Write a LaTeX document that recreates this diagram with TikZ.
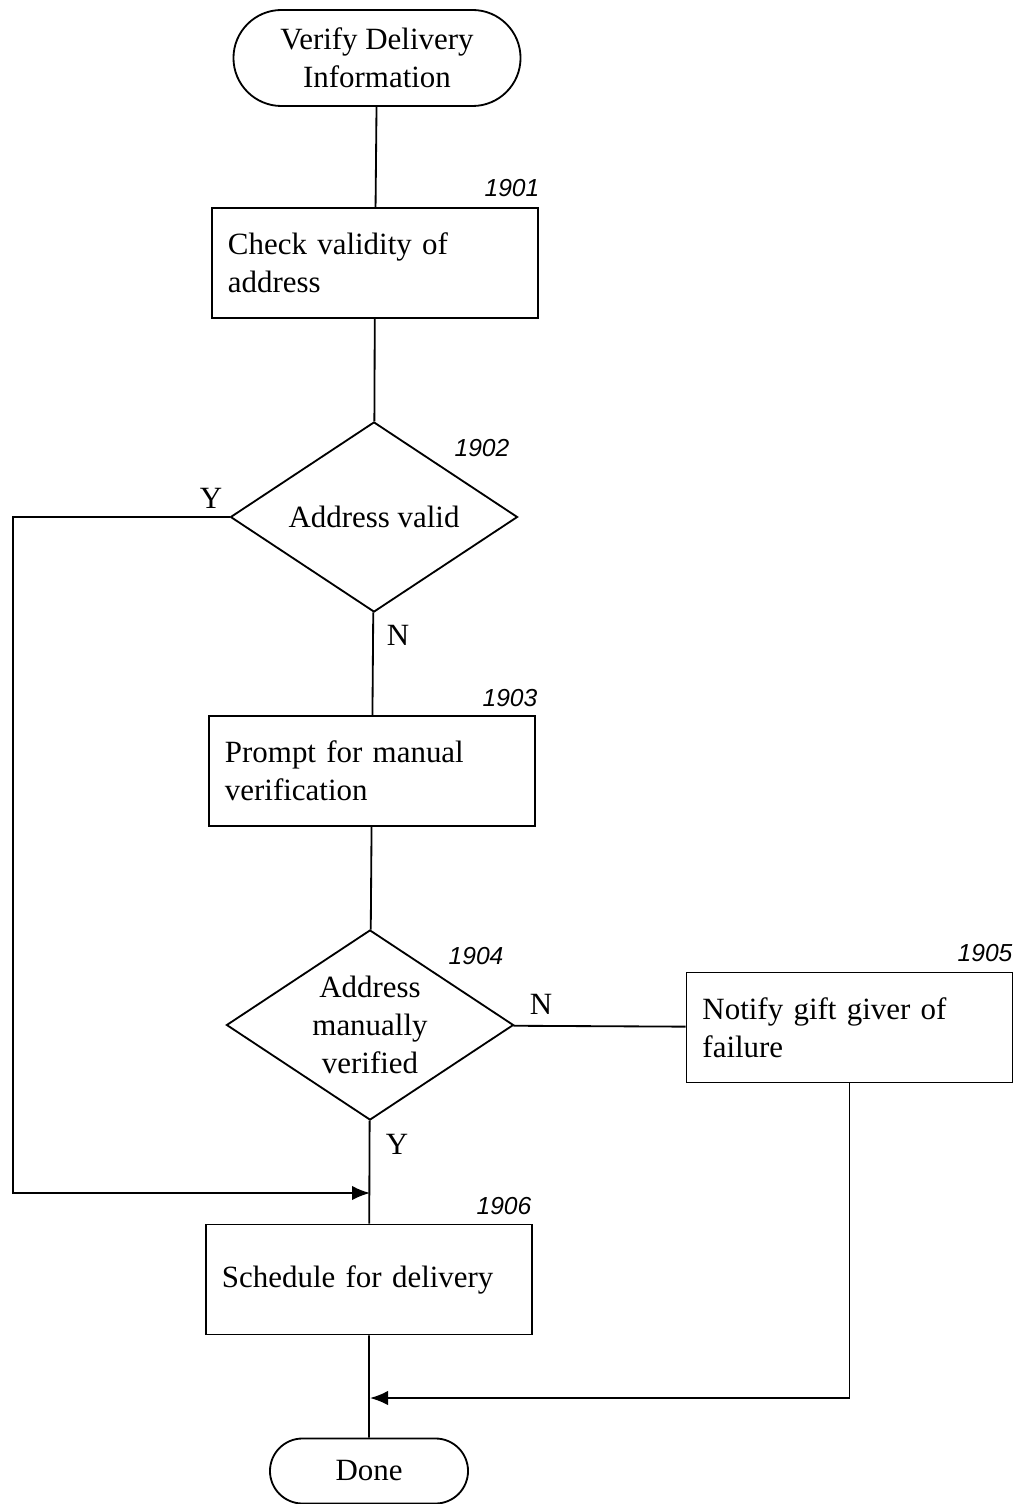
\documentclass[tikz,border=0pt]{standalone}
\usepackage{fontspec}
\setmainfont{Liberation Serif}
\newfontfamily\numfont{Liberation Sans}
\usepackage{tikz}
\usetikzlibrary{arrows.meta}
\usetikzlibrary{positioning}
\usetikzlibrary{shapes.geometric,shapes.misc}
\tikzset{>={Latex[length=0.45cm,width=0.36cm]}}
\def\boxwidth{8.15cm}
\def\boxheight{2.75cm}

\begin{document}
\begin{tikzpicture}[
	x=0.025cm, y=-0.025cm,
	line width=1.3pt,
	procbox/.style={rectangle, draw, minimum width=\boxwidth, minimum height=\boxheight, text width=7.35cm, align=left, inner sep=0pt, font=\fontsize{22}{27}\selectfont},
	terminal/.style={rounded rectangle, draw, minimum width=7.175cm, minimum height=2.4cm, align=center, inner sep=0pt, font=\fontsize{22}{27}\selectfont},
	decision/.style={diamond, draw, aspect=1.5, minimum width=7.175cm, minimum height=4.75cm, align=center, inner sep=0pt, font=\fontsize{22}{27}\selectfont},
	refnum/.style={inner sep=0pt, font=\numfont\itshape\fontsize{17.5}{20}\selectfont},
	yn/.style={inner sep=0pt, font=\fontsize{22}{27}\selectfont},
	]
	\useasboundingbox (0,0) rectangle (1018,1504);
	
	\node[terminal] (start) at (377,58) {Verify Delivery\\Information};
	\node[procbox] (check) at (375,263) {Check validity of\\address};
	\node[decision] (valid) at (374,517) {Address valid};
	\node[procbox] (prompt) at (372,771) {Prompt for manual\\verification};
	\node[decision] (manual) at (370,1025) {Address\\manually\\verified};
	\node[procbox] (notify) at (849.5,1027.5) {Notify gift giver of\\failure};
	\node[procbox] (sched) at (369,1279.5) {Schedule for delivery};
	\node[terminal, minimum width=4.95cm, minimum height=1.625cm] (done) at (369,1471) {Done};
	
	% reference numbers
	\node[refnum] (n1901) at (512,188) {1901};
	\node[refnum] (n1902) at (482,448) {1902};
	\node[refnum] (n1903) at (510,698) {1903};
	\node[refnum] (n1904) at (476,956) {1904};
	\node[refnum] (n1905) at (985,953) {1905};
	\node[refnum] (n1906) at (504,1206) {1906};
	
	\node[yn] (y1) at (211,498) {Y};
	\node[yn] (n1) at (398,635) {N};
	\node[yn] (n2) at (541,1004) {N};
	\node[yn] (y2) at (397,1144) {Y};
	
	\draw (start) -- (check);
	\draw (check) -- (valid);
	\draw (valid) -- (prompt);
	\draw (prompt) -- (manual);
	\draw (manual) -- (notify);
	\draw (manual) -- (sched);
	\draw (sched) -- (done);
	
	% loop-backs
	\coordinate (leftrail) at (13,517);
	\coordinate (joinup) at (370,1193);
	\coordinate (joindown) at (370,1398);
	\draw[->] (valid.west) -- (leftrail) |- (joinup);
	\draw[->] (notify.south) |- (joindown);
	
\end{tikzpicture}
\end{document}
